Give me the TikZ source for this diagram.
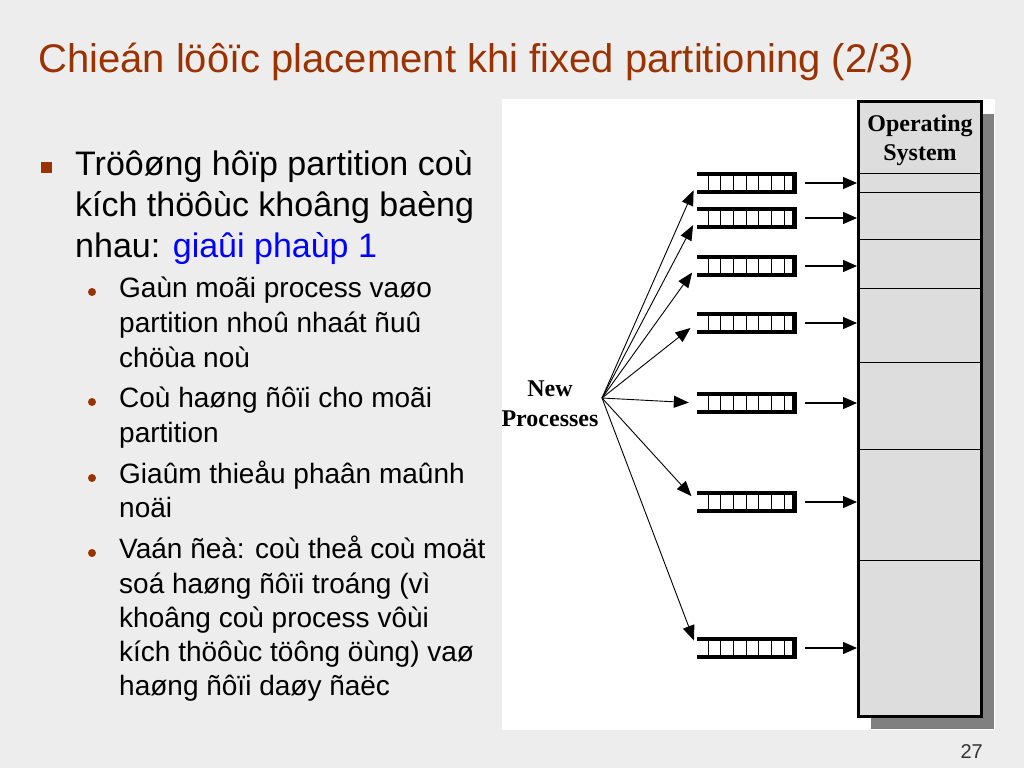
\documentclass[tikz,border=0pt]{standalone}
\usepackage{fontspec}
\setmainfont{Liberation Sans}
\newfontfamily\figfont{Liberation Serif}
\usetikzlibrary{arrows.meta}
\usetikzlibrary{shadows}
\definecolor{bgcol}{RGB}{237,237,237}
\definecolor{titlebrown}{RGB}{153,51,0}
\definecolor{memgray}{RGB}{221,221,221}
\definecolor{shadowgray}{RGB}{128,128,128}
\tikzset{
	titlestyle/.style={anchor=base west, inner sep=0pt, text=titlebrown, font=\fontsize{40}{48}\selectfont},
	mainstyle/.style={anchor=base west, inner sep=0pt, font=\fontsize{34}{41}\selectfont},
	substyle/.style={anchor=base west, inner sep=0pt, font=\fontsize{28}{34}\selectfont},
	figstyle/.style={anchor=base, inner sep=0pt, font=\figfont\bfseries\fontsize{24}{29}\selectfont},
	squarestyle/.style={rectangle, fill=titlebrown, minimum size=11pt, inner sep=0pt},
	dotstyle/.style={circle, fill=titlebrown, minimum size=8pt, inner sep=0pt},
	queuestyle/.style={rectangle, fill=white, inner sep=0pt, minimum width=100pt, minimum height=22pt,
		path picture={
			\fill[black] (path picture bounding box.north west) rectangle ([yshift=-4pt]path picture bounding box.north east);
			\fill[black] ([yshift=4pt]path picture bounding box.south west) rectangle (path picture bounding box.south east);
			\fill[black] ([xshift=-5pt]path picture bounding box.north east) rectangle (path picture bounding box.south east);
			\foreach \k in {0,...,6}
				\draw[black, line width=1pt] ([xshift=11.3pt+12.67pt*\k, yshift=-4pt]path picture bounding box.north west) -- ([xshift=11.3pt+12.67pt*\k, yshift=4pt]path picture bounding box.south west);
		}},
	memstyle/.style={rectangle, draw=black, line width=3pt, fill=memgray, inner sep=0pt, minimum width=123pt, minimum height=615pt,
		drop shadow={shadow xshift=12pt, shadow yshift=-12pt, opacity=1, fill=shadowgray}},
	fanarrow/.style={-{Triangle[length=15pt,width=12pt]}, line width=0.9pt, shorten >=8pt},
	memarrow/.style={-{Triangle[length=14pt,width=12pt]}, line width=1.2pt}
}

\begin{document}
\begin{tikzpicture}[x=1pt, y=-1pt]
	\useasboundingbox (0,0) rectangle (1024,768);
	\fill[bgcol] (0,0) rectangle (1024,768);
	% title
	\node[titlestyle] (title) at (38,72) {Chieán löôïc placement khi fixed partitioning (2/3)};
	% left column
	\node[squarestyle] (sq) at (46.5,167.5) {};
	\node[mainstyle] (m1) at (75,175) {Tröôøng hôïp partition coù};
	\node[mainstyle] (m2) at (75,216) {kích thöôùc khoâng baèng};
	\node[mainstyle] (m3) at (75,257) {nhau: \textcolor{blue}{giaûi phaùp 1}};
	\foreach \y in {297,407,483,558}
		\node[dotstyle] (dot\y) at (92,\y-5) {};
	\foreach \t/\y [count=\i] in {{Gaùn moãi process vaøo}/297, {partition nhoû nhaát ñuû}/332, {chöùa noù}/367,
		{Coù haøng ñôïi cho moãi}/407, {partition}/442,
		{Giaûm thieåu phaân maûnh}/483, {noäi}/517,
		{Vaán ñeà: coù theå coù moät}/558, {soá haøng ñôïi troáng (vì}/593, {khoâng coù process vôùi}/627,
		{kích thöôùc töông öùng) vaø}/661, {haøng ñôïi daøy ñaëc}/695}
		\node[substyle] (s\i) at (119,\y) {\t};
	% figure
	\fill[white] (502,99) rectangle (995,730);
	\node[memstyle] (mem) at (920,409) {};
	\foreach \y in {173,192,239,288,362,449,560}
		\draw[line width=1pt] (858.5,\y) -- (981.5,\y);
	\node[figstyle] (os1) at (920,131) {Operating};
	\node[figstyle] (os2) at (920,160) {System};
	\node[figstyle] (new) at (550,396) {New};
	\node[figstyle] (proc) at (550,426) {Processes};
	\coordinate (hub) at (602,398);
	\node[queuestyle] (q1) at (747,183) {};
	\node[queuestyle] (q2) at (747,218) {};
	\node[queuestyle] (q3) at (747,266) {};
	\node[queuestyle] (q4) at (747,323) {};
	\node[queuestyle] (q5) at (747,403) {};
	\node[queuestyle] (q6) at (747,502) {};
	\node[queuestyle] (q7) at (747,648) {};
	\draw[fanarrow] (hub) -- (q1.west);
	\draw[fanarrow] (hub) -- (q2.west);
	\draw[fanarrow] (hub) -- (q3.west);
	\draw[fanarrow] (hub) -- (q4.west);
	\draw[fanarrow] (hub) -- (q5.west);
	\draw[fanarrow] (hub) -- (q6.west);
	\draw[fanarrow] (hub) -- (q7.west);
	\draw[memarrow] ([xshift=8pt]q1.east) -- (q1.east -| mem.west);
	\draw[memarrow] ([xshift=8pt]q2.east) -- (q2.east -| mem.west);
	\draw[memarrow] ([xshift=8pt]q3.east) -- (q3.east -| mem.west);
	\draw[memarrow] ([xshift=8pt]q4.east) -- (q4.east -| mem.west);
	\draw[memarrow] ([xshift=8pt]q5.east) -- (q5.east -| mem.west);
	\draw[memarrow] ([xshift=8pt]q6.east) -- (q6.east -| mem.west);
	\draw[memarrow] ([xshift=8pt]q7.east) -- (q7.east -| mem.west);
	% page number
	\node[anchor=base east, inner sep=0pt, text=black!80, font=\fontsize{20}{24}\selectfont] (page) at (983,758) {27};
\end{tikzpicture}
\end{document}
